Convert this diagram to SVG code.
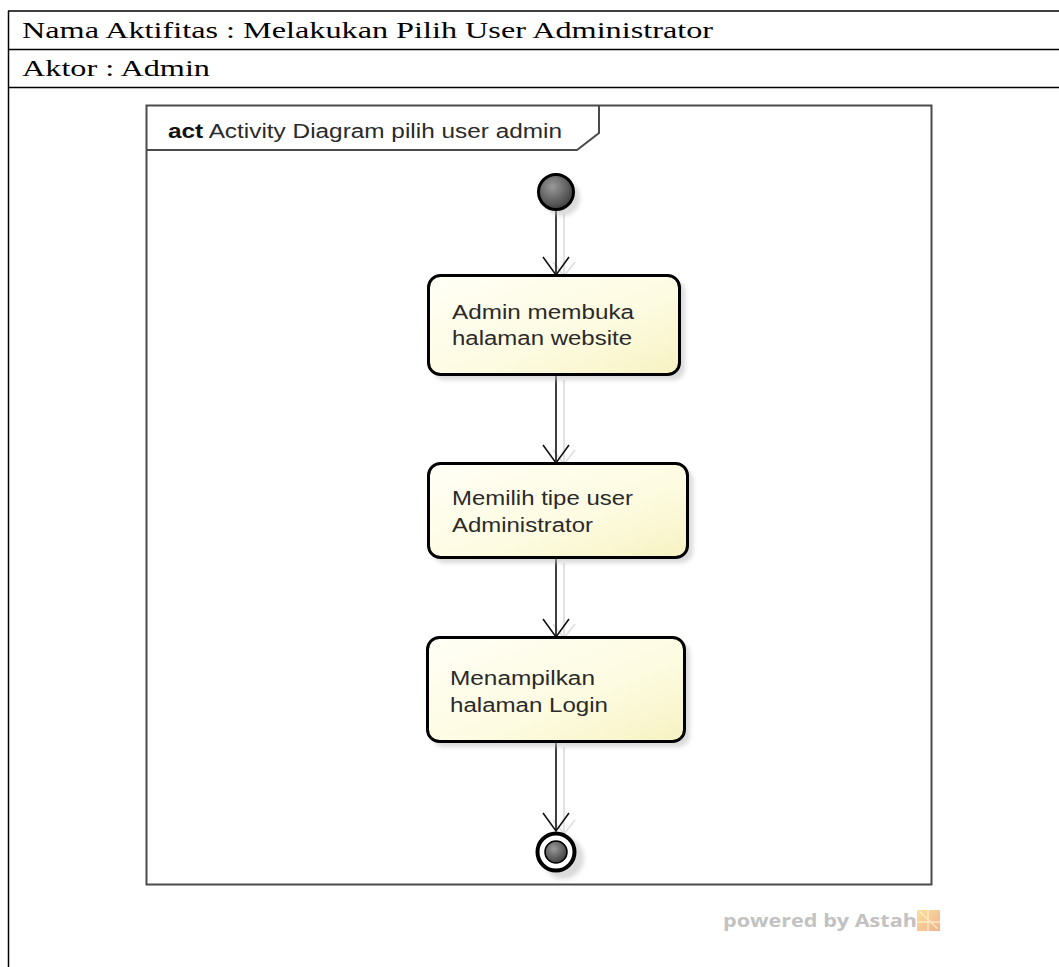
<svg xmlns="http://www.w3.org/2000/svg" width="1059" height="967" viewBox="0 0 1059 967">
  <style>
    .rule { stroke: #000; stroke-width: 1.5; fill: none; }
    .doc { font-family: "Liberation Serif", "Times New Roman", serif; font-size: 24px; fill: #000; }
    .label { font-family: "Liberation Sans", Arial, sans-serif; font-size: 20px; fill: #2a2a2a; }
    .frame { fill: #fff; stroke: #4a4a4a; stroke-width: 2; }
    .action { fill: url(#actionFill); stroke: #000; stroke-width: 3; }
    .shadow { fill: #bdbdbd; opacity: 0.55; filter: url(#soft); }
    .flow { stroke: #111; stroke-width: 1.6; fill: none; }
    .flowShadow { stroke: #dadada; stroke-width: 1.6; fill: none; }
    .head { stroke: #111; stroke-width: 1.6; fill: none; }
    .headShadow { stroke: #dcdcdc; stroke-width: 1.4; fill: none; }
  </style>
  <defs>
    <linearGradient id="actionFill" x1="0" y1="0" x2="1" y2="1">
      <stop offset="0" stop-color="#fffff6"/>
      <stop offset="0.6" stop-color="#fdfbe0"/>
      <stop offset="1" stop-color="#f7f2c2"/>
    </linearGradient>
    <radialGradient id="ball" cx="0.4" cy="0.35" r="0.7">
      <stop offset="0" stop-color="#9a9a9a"/>
      <stop offset="1" stop-color="#3a3a3a"/>
    </radialGradient>
    <linearGradient id="logo" x1="0" y1="0" x2="1" y2="1">
      <stop offset="0" stop-color="#f9dc8c"/>
      <stop offset="1" stop-color="#f0a27a"/>
    </linearGradient>
    <filter id="soft" x="-20%" y="-20%" width="140%" height="140%">
      <feGaussianBlur stdDeviation="2"/>
    </filter>
  </defs>

  <!-- document table -->
  <g id="table">
    <line class="rule" x1="8.5" y1="11" x2="8.5" y2="967"/>
    <line class="rule" x1="8" y1="11" x2="1059" y2="11"/>
    <line class="rule" x1="8" y1="49.5" x2="1059" y2="49.5"/>
    <line class="rule" x1="8" y1="87.5" x2="1059" y2="87.5"/>
    <text class="doc" x="22" y="38" textLength="691" lengthAdjust="spacingAndGlyphs">Nama Aktifitas : Melakukan Pilih User Administrator</text>
    <text class="doc" x="22" y="76" textLength="188" lengthAdjust="spacingAndGlyphs">Aktor : Admin</text>
  </g>

  <!-- activity frame -->
  <g id="frame">
    <rect class="frame" x="146.5" y="105.5" width="785" height="779"/>
    <path d="M146.5 150 H577 L599 133 V105.5" fill="none" stroke="#4a4a4a" stroke-width="2"/>
    <text class="label" x="168" y="138" textLength="394" lengthAdjust="spacingAndGlyphs"><tspan font-weight="bold" fill="#111">act</tspan> Activity Diagram pilih user admin</text>
  </g>

  <!-- control flows -->
  <g id="connectors">
    <path class="flowShadow" d="M564 214 V275 M564 380 V463 M564 563 V637 M564 747 V833"/>
    <path class="headShadow" d="M553 262 L564 276 L575 262 M553 450 L564 464 L575 450 M553 624 L564 638 L575 624 M553 820 L564 834 L575 820"/>
    <path class="flow" d="M556 210 V275 M556 375 V463 M556 558 V637 M556 742 V831"/>
    <path class="head" d="M543 257 L556 275 L569 257 M543 445 L556 463 L569 445 M543 619 L556 637 L569 619 M543 813 L556 831 L569 813"/>
  </g>

  <!-- initial node -->
  <g id="start">
    <circle class="shadow" cx="562" cy="198" r="18"/>
    <circle cx="556" cy="192" r="17.5" fill="url(#ball)" stroke="#000" stroke-width="3"/>
  </g>

  <!-- actions -->
  <g id="action1">
    <rect class="shadow" x="433" y="280" width="252" height="100" rx="12"/>
    <rect class="action" x="428.5" y="275.5" width="251" height="99" rx="12"/>
    <text class="label" x="452" y="319" textLength="182" lengthAdjust="spacingAndGlyphs">Admin membuka</text>
    <text class="label" x="452" y="345" textLength="180" lengthAdjust="spacingAndGlyphs">halaman website</text>
  </g>

  <g id="action2">
    <rect class="shadow" x="433" y="468" width="260" height="95" rx="12"/>
    <rect class="action" x="428.5" y="463.5" width="259" height="94" rx="12"/>
    <text class="label" x="452" y="505" textLength="181" lengthAdjust="spacingAndGlyphs">Memilih tipe user</text>
    <text class="label" x="452" y="532" textLength="141" lengthAdjust="spacingAndGlyphs">Administrator</text>
  </g>

  <g id="action3">
    <rect class="shadow" x="432" y="642" width="258" height="105" rx="12"/>
    <rect class="action" x="427.5" y="637.5" width="257" height="104" rx="12"/>
    <text class="label" x="450" y="685" textLength="145" lengthAdjust="spacingAndGlyphs">Menampilkan</text>
    <text class="label" x="450" y="712" textLength="158" lengthAdjust="spacingAndGlyphs">halaman Login</text>
  </g>

  <!-- final node -->
  <g id="end">
    <circle class="shadow" cx="563" cy="858" r="21"/>
    <circle cx="556" cy="852" r="18.5" fill="#fff" stroke="#000" stroke-width="4"/>
    <circle cx="556" cy="852" r="11" fill="url(#ball)" stroke="#000" stroke-width="1.5"/>
  </g>

  <!-- tool credit -->
  <g id="credit">
    <text x="723" y="927" font-family="'Open Sans', 'DejaVu Sans', sans-serif" font-weight="bold" font-size="17" fill="#c2c2c2" textLength="194" lengthAdjust="spacingAndGlyphs">powered by Astah</text>
    <rect x="917" y="910" width="23" height="21" fill="url(#logo)" opacity="0.85"/>
    <path d="M917 922 H940 M928 910 V931 M920 912 L938 929" stroke="#fff3d0" stroke-width="1.5" opacity="0.8"/>
  </g>
</svg>
